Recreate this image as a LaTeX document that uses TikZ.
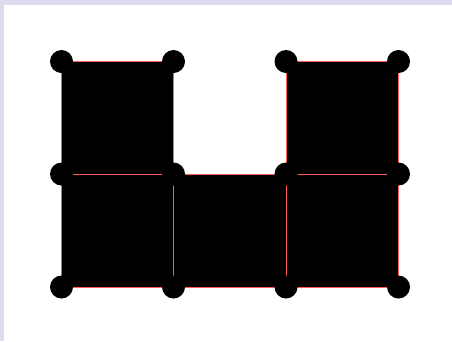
\documentclass[tikz,border=0pt]{standalone}
\definecolor{bgband}{RGB}{220,220,238}
\definecolor{edgered}{RGB}{255,90,90}
\begin{document}
\begin{tikzpicture}[x=1bp,y=-1bp,
  cell/.style={fill=black,draw=edgered,line width=1bp},
  dot/.style={circle,fill=black,inner sep=0pt,minimum size=23bp}]
\fill[bgband] (0,0) rectangle (452,341);
\fill[white] (4,4.5) rectangle (452,341);
\useasboundingbox (0,0) rectangle (452,341);
% grid coordinates
\foreach \i/\x in {0/61.5,1/173.5,2/286,3/398.5}{
  \foreach \j/\y in {0/61.5,1/174,2/287}{
    \coordinate (p\i\j) at (\x,\y);
  }
}
% cells
\path[cell] (p00) rectangle (p11);
\path[cell] (p20) rectangle (p31);
\path[cell] (p01) rectangle (p12);
\path[cell] (p11) rectangle (p22);
\path[cell] (p21) rectangle (p32);
% corner dots
\foreach \c in {00,10,20,30,01,11,21,31,02,12,22,32}{
  \node[dot] (d\c) at (p\c) {};
}
\end{tikzpicture}
\end{document}
